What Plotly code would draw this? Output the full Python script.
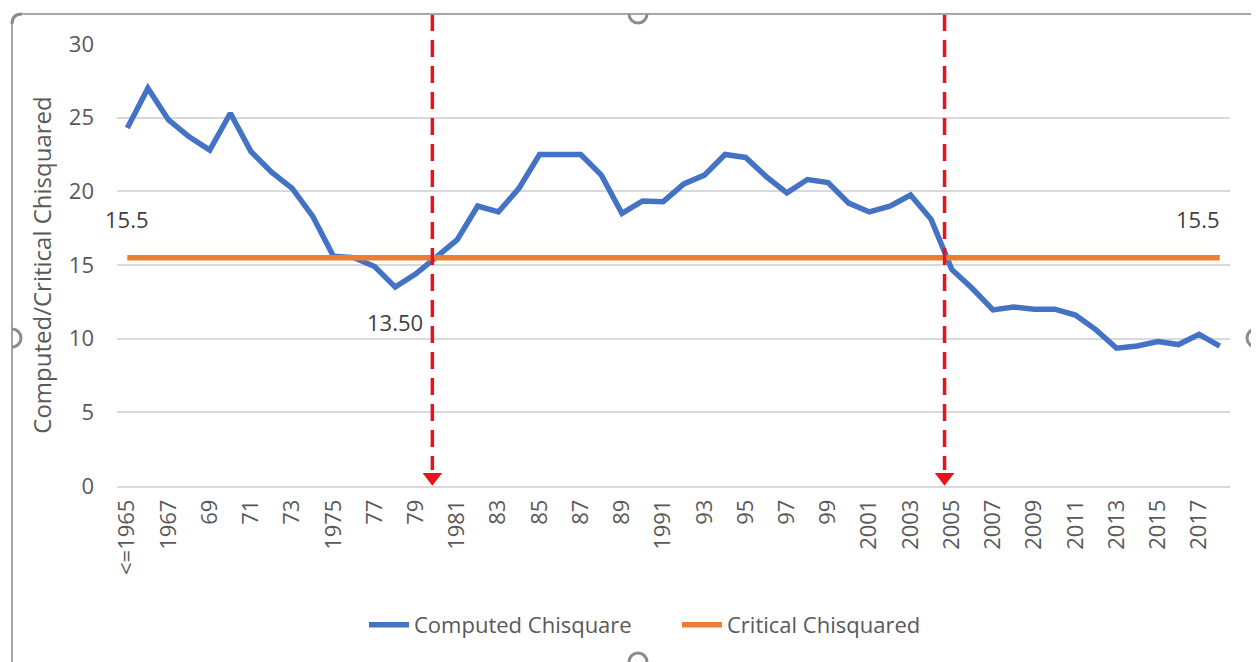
import plotly.graph_objects as go

# ---------------- data ----------------
categories = ["<=1965"] + [str(y) for y in range(1966, 2019)]
computed = [24.3, 27.0, 24.85, 23.7, 22.8, 25.3, 22.7, 21.3, 20.2, 18.3,
            15.6, 15.5, 14.9, 13.5, 14.4, 15.6, 16.7, 19.0, 18.6, 20.2,
            22.5, 22.5, 22.5, 21.1, 18.5, 19.35, 19.3, 20.5, 21.1, 22.5,
            22.3, 21.0, 19.9, 20.8, 20.6, 19.2, 18.6, 19.0, 19.75, 18.1,
            14.7, 13.4, 11.95, 12.15, 12.0, 12.0, 11.6, 10.6, 9.35, 9.5,
            9.8, 9.6, 10.3, 9.5]
critical = [15.5] * len(categories)

tick_vals = categories[::2]
tick_text = ["<=1965", "1967", "69", "71", "73", "1975", "77", "79", "1981",
             "83", "85", "87", "89", "1991", "93", "95", "97", "99", "2001",
             "2003", "2005", "2007", "2009", "2011", "2013", "2015", "2017"]
y_ticks = [0, 5, 10, 15, 20, 25, 30]
break_positions = [14.8, 39.65]   # category index of the red dashed markers

# ---------------- layout geometry (window pixels; page body has 8px margin) ----
OFF = 8
WIN_W, WIN_H = 1259, 662
W, H = WIN_W - OFF, WIN_H - OFF
PL, PR, PT, PB = 117, 1230, 44, 486          # plot area in window pixels
ML, MR, MT, MB = PL - OFF, WIN_W - PR, PT - OFF, WIN_H - PB
PW, PH = PR - PL, PB - PT


def px(xp):
    return (xp - PL) / PW


def py(yp):
    return (PB - yp) / PH


TEXT = "#595959"
LABEL = "#404040"
FONT = "Open Sans"
GRID = "#d9d9d9"
BLUE = "#4472C4"
ORANGE = "#ED7D31"
RED = "#E8141C"

fig = go.Figure()
fig.add_trace(go.Scatter(x=categories, y=computed, mode="lines",
                         name="Computed Chisquare",
                         line=dict(color=BLUE, width=5.5)))
fig.add_trace(go.Scatter(x=categories, y=critical, mode="lines",
                         name="Critical Chisquared",
                         line=dict(color=ORANGE, width=5.5)))

# arrow heads of the dashed markers
fig.add_trace(go.Scatter(x=break_positions, y=[0.6] * len(break_positions),
                         mode="markers", showlegend=False, hoverinfo="skip",
                         marker=dict(symbol="triangle-down", size=17, color=RED,
                                     line=dict(width=0)),
                         cliponaxis=False, xaxis="x2"))

shapes = []
for b in break_positions:
    shapes.append(dict(type="line", xref="x2", yref="paper",
                       x0=b, x1=b, y0=py(14), y1=py(470),
                       line=dict(color=RED, width=3.5, dash="17px,9px")))

# chart-frame decoration (Excel selection border with handles)
FR = "#a6a6a6"
shapes.append(dict(type="line", xref="paper", yref="paper",
                   x0=px(20), x1=px(WIN_W + 5), y0=py(14), y1=py(14),
                   line=dict(color=FR, width=2)))
shapes.append(dict(type="line", xref="paper", yref="paper",
                   x0=px(12), x1=px(12), y0=py(22), y1=py(WIN_H + 5),
                   line=dict(color=FR, width=2)))


def arc_path(cx, cy, r, side):
    k = 0.5523 * r
    if side == "down":
        pts = [(cx - r, cy), (cx - r, cy + k), (cx - k, cy + r), (cx, cy + r),
               (cx + k, cy + r), (cx + r, cy + k), (cx + r, cy)]
    elif side == "up":
        pts = [(cx - r, cy), (cx - r, cy - k), (cx - k, cy - r), (cx, cy - r),
               (cx + k, cy - r), (cx + r, cy - k), (cx + r, cy)]
    elif side == "right":
        pts = [(cx, cy - r), (cx + k, cy - r), (cx + r, cy - k), (cx + r, cy),
               (cx + r, cy + k), (cx + k, cy + r), (cx, cy + r)]
    else:  # left
        pts = [(cx, cy - r), (cx - k, cy - r), (cx - r, cy - k), (cx - r, cy),
               (cx - r, cy + k), (cx - k, cy + r), (cx, cy + r)]
    p = [(px(a), py(b)) for a, b in pts]
    return ("M{},{} C{},{} {},{} {},{} C{},{} {},{} {},{}".format(
        *[v for pt in p for v in pt]))


for cx, cy, r, side in [(638, 14, 9, "down"), (12, 338, 9, "right"),
                        (1256, 338, 9, "left"), (638, 662, 9, "up")]:
    shapes.append(dict(type="path", xref="paper", yref="paper",
                       path=arc_path(cx, cy, r, side),
                       line=dict(color="#8c8c8c", width=3)))
# rounded top-left corner
shapes.append(dict(type="path", xref="paper", yref="paper",
                   path="M{},{} Q{},{} {},{}".format(px(12), py(24), px(12), py(14),
                                                      px(22), py(14)),
                   line=dict(color="#8c8c8c", width=3)))

# data labels (x given as category index so numeric-looking names are not misread)
last = len(categories) - 1
i_min = computed.index(min(computed[:20]))
annotations = [
    dict(x=0, y=critical[0], text=f"{critical[0]}", showarrow=False,
         xanchor="center", yanchor="middle", yshift=39,
         font=dict(family=FONT, size=22, color=LABEL)),
    dict(x=last, y=critical[last], text=f"{critical[last]}", showarrow=False,
         xanchor="right", yanchor="middle", yshift=39, xshift=2,
         font=dict(family=FONT, size=22, color=LABEL)),
    dict(x=i_min, y=computed[i_min], text=f"{computed[i_min]:.2f}",
         showarrow=False, xanchor="center", yanchor="middle", yshift=-35,
         font=dict(family=FONT, size=22, color=LABEL)),
]

fig.update_layout(
    width=W, height=H,
    margin=dict(l=ML, r=MR, t=MT, b=MB, autoexpand=False),
    paper_bgcolor="white", plot_bgcolor="white",
    font=dict(family=FONT, size=22, color=TEXT),
    showlegend=True,
    legend=dict(orientation="h", x=px(364), xanchor="left",
                y=py(625), yanchor="middle",
                font=dict(family=FONT, size=22, color=TEXT),
                itemwidth=40, tracegroupgap=0,
                entrywidth=258, entrywidthmode="pixels"),
    xaxis=dict(type="category", categoryorder="array", categoryarray=categories,
               range=[-0.5, len(categories) - 0.5],
               tickmode="array", tickvals=tick_vals, ticktext=tick_text,
               tickangle=-90, showgrid=False, showline=True, linecolor=GRID,
               linewidth=1.5, ticks="", ticklabelstandoff=3,
               tickfont=dict(size=22, color=TEXT),
               zeroline=False, fixedrange=True),
    xaxis2=dict(overlaying="x", range=[-0.5, len(categories) - 0.5],
                visible=False, fixedrange=True),
    yaxis=dict(range=[0, 30], tickmode="array", tickvals=y_ticks,
               showgrid=True, gridcolor=GRID, gridwidth=1.5, zeroline=False,
               showline=False, ticks="", ticklabelstandoff=22,
               tickfont=dict(size=22, color=TEXT),
               title=dict(text="Computed/Critical Chisquared", standoff=10,
                          font=dict(size=24, color=TEXT)),
               fixedrange=True),
    shapes=shapes,
    annotations=annotations,
)

fig.write_html("out.html")
